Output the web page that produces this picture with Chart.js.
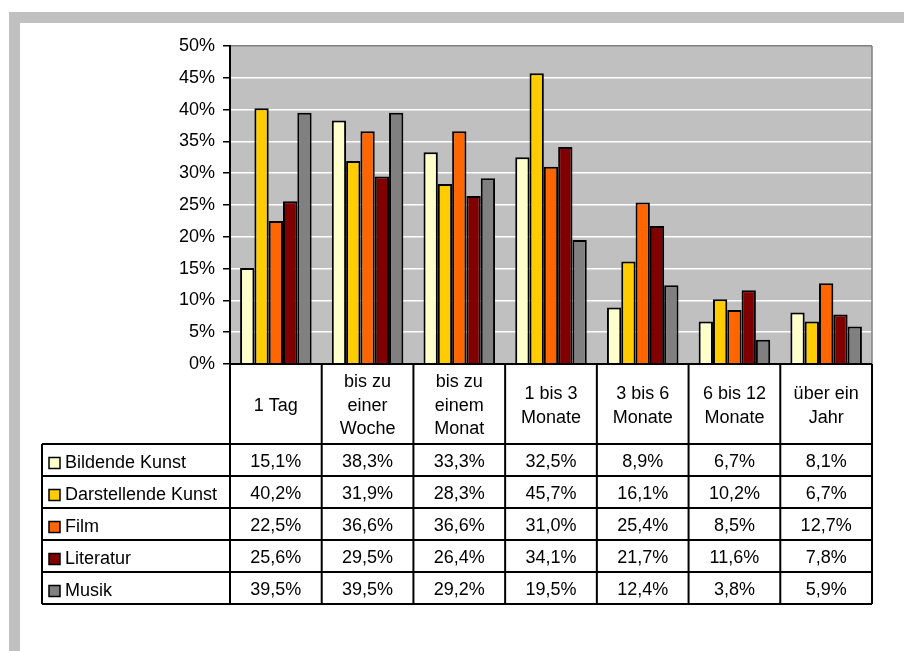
<!DOCTYPE html>
<html>
<head>
<meta charset="utf-8">
<title>Dauer</title>
<script src="https://cdn.jsdelivr.net/npm/chart.js@4/dist/chart.umd.min.js"></script>
<style>
    html, body { margin: 0; padding: 0; background: #fff; }
    #wrap { width: 904px; height: 651px; position: relative; }
</style>
</head>
<body>
<div id="wrap"><canvas id="chart" width="904" height="651"></canvas></div>
<script>
'use strict';

var categories = [
    ['1 Tag'],
    ['bis zu', 'einer', 'Woche'],
    ['bis zu', 'einem', 'Monat'],
    ['1 bis 3', 'Monate'],
    ['3 bis 6', 'Monate'],
    ['6 bis 12', 'Monate'],
    ['über ein', 'Jahr']
];
var seriesNames = ['Bildende Kunst', 'Darstellende Kunst', 'Film', 'Literatur', 'Musik'];
var seriesColors = ['#FFFFCC', '#FFCC00', '#FF6600', '#800000', '#808080'];

var bildendeKunst = [15.1, 38.3, 33.3, 32.5, 8.9, 6.7, 8.1];
var darstellendeKunst = [40.2, 31.9, 28.3, 45.7, 16.1, 10.2, 6.7];
var film = [22.5, 36.6, 36.6, 31.0, 25.4, 8.5, 12.7];
var literatur = [25.6, 29.5, 26.4, 34.1, 21.7, 11.6, 7.8];
var musik = [39.5, 39.5, 29.2, 19.5, 12.4, 3.8, 5.9];
var seriesValues = [bildendeKunst, darstellendeKunst, film, literatur, musik];

var yTicks = [0, 5, 10, 15, 20, 25, 30, 35, 40, 45, 50];

var FONT = "'Liberation Sans', Arial, sans-serif";

function fmt(v) {
    return v.toFixed(1).replace('.', ',') + '%';
}

// gray frame + plot background
var backgroundPlugin = {
    id: 'background',
    beforeDraw: function (chart) {
        var ctx = chart.ctx, a = chart.chartArea;
        ctx.save();
        ctx.fillStyle = '#C0C0C0';
        ctx.fillRect(9, 12, chart.width - 9, chart.height - 12);
        ctx.fillStyle = '#FFFFFF';
        ctx.fillRect(20, 23, chart.width - 20, chart.height - 23);
        ctx.fillStyle = '#C0C0C0';
        ctx.fillRect(a.left, a.top, a.right - a.left, a.bottom - a.top);
        ctx.restore();
    }
};

// data table under the plot, using the x scale for columns
var dataTablePlugin = {
    id: 'dataTable',
    afterDraw: function (chart) {
        var ctx = chart.ctx, a = chart.chartArea;
        var x = chart.scales.x;
        var colW = (a.right - a.left) / categories.length;
        var headTop = a.bottom, headBottom = a.bottom + 80, rowH = 32;
        var labelLeft = 42;
        var tableBottom = headBottom + rowH * seriesNames.length;
        var i, j;

        ctx.save();

        // right border of plot
        ctx.strokeStyle = '#808080';
        ctx.lineWidth = 1.5;
        ctx.beginPath();
        ctx.moveTo(a.right, a.top);
        ctx.lineTo(a.right, a.bottom);
        ctx.stroke();

        ctx.strokeStyle = '#000';
        ctx.lineWidth = 2;
        ctx.beginPath();
        ctx.moveTo(a.left, headTop);
        ctx.lineTo(a.right, headTop);
        for (j = 0; j <= seriesNames.length; j++) {
            ctx.moveTo(labelLeft, headBottom + j * rowH);
            ctx.lineTo(a.right, headBottom + j * rowH);
        }
        for (i = 0; i <= categories.length; i++) {
            ctx.moveTo(a.left + i * colW, headTop);
            ctx.lineTo(a.left + i * colW, tableBottom);
        }
        ctx.moveTo(labelLeft, headBottom);
        ctx.lineTo(labelLeft, tableBottom);
        ctx.stroke();

        ctx.fillStyle = '#000';
        ctx.font = '18px ' + FONT;
        ctx.textAlign = 'center';
        ctx.textBaseline = 'middle';
        var lineH = 23.5;
        for (i = 0; i < categories.length; i++) {
            var cx = x.getPixelForValue(i);
            var lines = categories[i];
            var cy = (headTop + headBottom) / 2 + 2 - (lines.length - 1) * lineH / 2;
            for (var k = 0; k < lines.length; k++) {
                ctx.fillText(lines[k], cx, cy + k * lineH);
            }
        }

        for (j = 0; j < seriesNames.length; j++) {
            var ry = headBottom + j * rowH + rowH / 2 + 2;
            for (i = 0; i < categories.length; i++) {
                ctx.fillText(fmt(seriesValues[j][i]), x.getPixelForValue(i), ry);
            }
            // legend key
            ctx.fillStyle = seriesColors[j];
            ctx.fillRect(49, ry - 4.5, 11, 11);
            ctx.lineWidth = 1.5;
            ctx.strokeRect(49, ry - 4.5, 11, 11);
            ctx.fillStyle = '#000';
            ctx.textAlign = 'left';
            ctx.fillText(seriesNames[j], 65, ry + 1);
            ctx.textAlign = 'center';
        }
        ctx.restore();
    }
};

var datasets = [];
for (var s = 0; s < seriesNames.length; s++) {
    datasets.push({
        label: seriesNames[s],
        data: seriesValues[s],
        backgroundColor: seriesColors[s],
        borderColor: '#000',
        borderWidth: 2,
        categoryPercentage: 0.78,
        barPercentage: 1.0
    });
}

var ctx = document.getElementById('chart');
var myChart = new Chart(ctx, {
    type: 'bar',
    data: {
        labels: categories.map(function (c) { return c.join(' '); }),
        datasets: datasets
    },
    options: {
        responsive: false,
        animation: false,
        devicePixelRatio: 1,
        layout: {
            padding: { left: 0, top: 46, right: 32, bottom: 287 }
        },
        plugins: {
            legend: { display: false },
            tooltip: { enabled: false }
        },
        scales: {
            x: {
                display: false,
                offset: true
            },
            y: {
                min: 0,
                max: 50,
                afterFit: function (scale) { scale.width = 230; },
                afterBuildTicks: function (scale) {
                    scale.ticks = yTicks.map(function (v) { return { value: v }; });
                },
                ticks: {
                    color: '#000',
                    padding: 8,
                    font: { family: FONT, size: 18 },
                    callback: function (v) { return v + '%'; }
                },
                grid: {
                    color: function (c) {
                        if (c.tick && c.tick.value === 50) return '#808080';
                        if (c.tick && c.tick.value === 0) return '#000';
                        return '#FFFFFF';
                    },
                    lineWidth: 1.5,
                    tickColor: '#000',
                    tickLength: 7
                },
                border: { display: true, color: '#000', width: 2 }
            }
        }
    },
    plugins: [backgroundPlugin, dataTablePlugin]
});
</script>
</body>
</html>
